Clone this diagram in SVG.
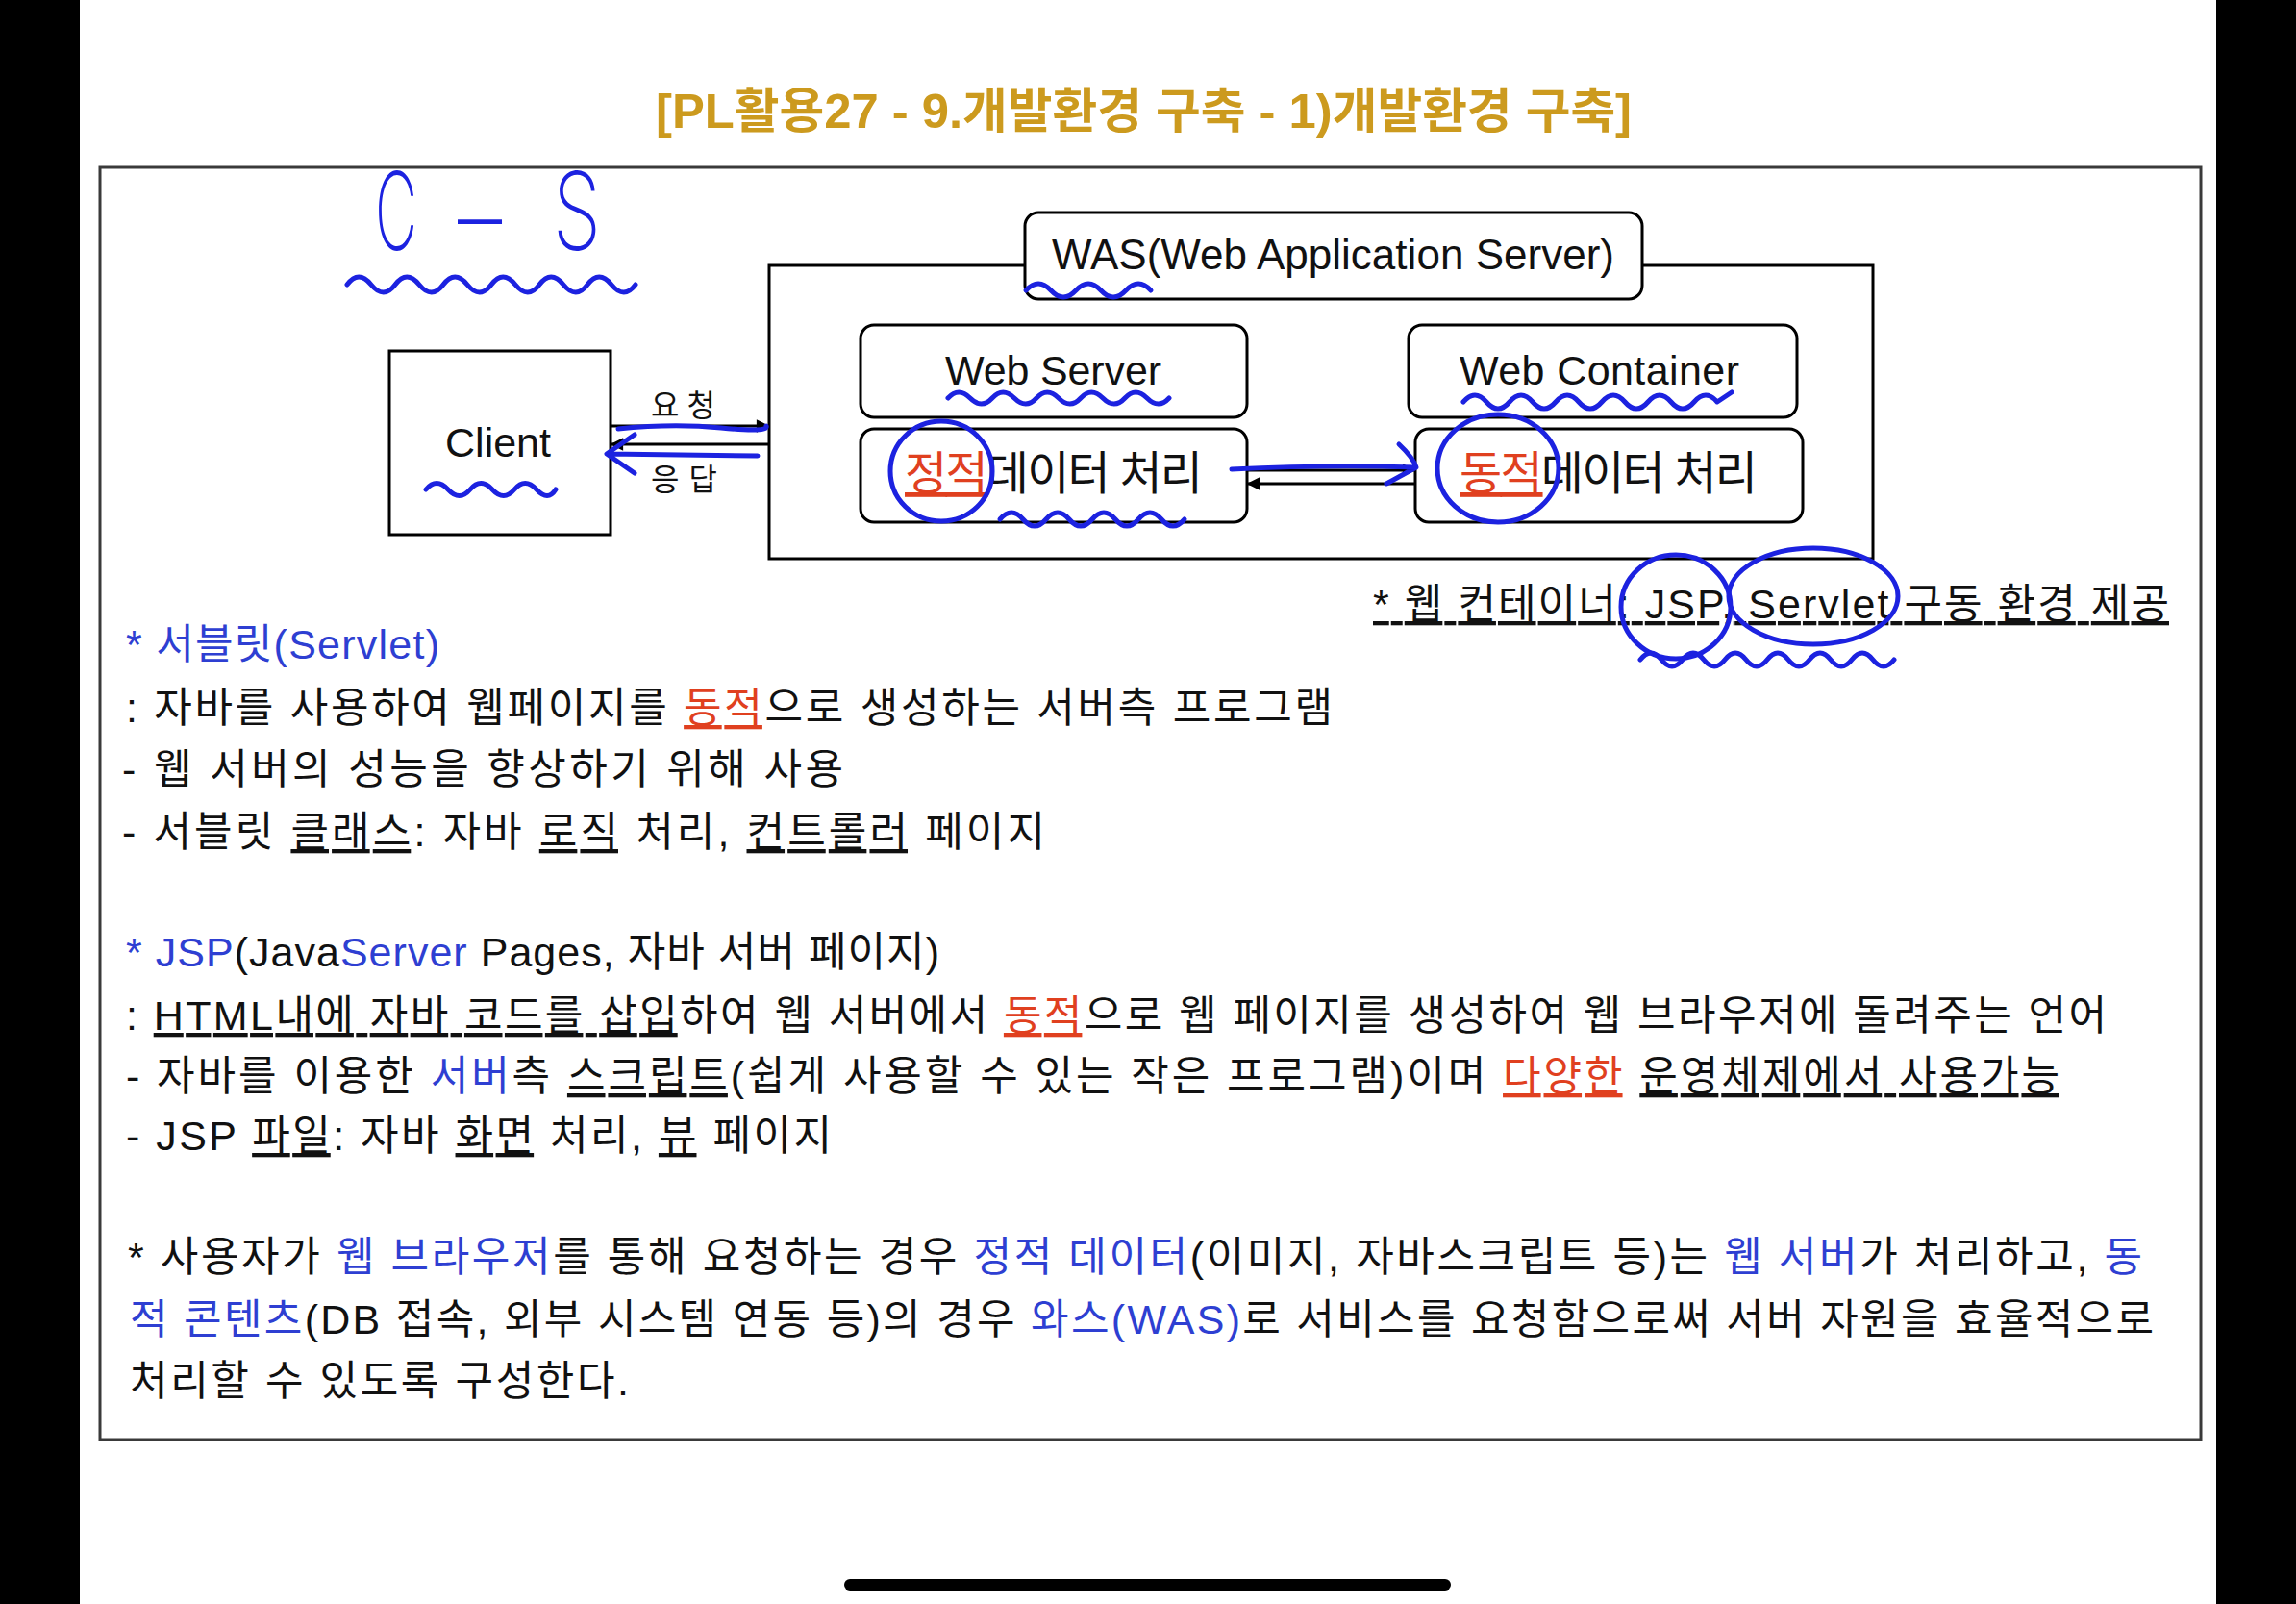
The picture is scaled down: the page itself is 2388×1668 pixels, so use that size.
<svg xmlns="http://www.w3.org/2000/svg" width="2388" height="1668" viewBox="0 0 2388 1668">
<style>
.box{fill:#fff;stroke:#000;stroke-width:3}
.rbox{fill:#fff;stroke:#000;stroke-width:3}
.con{fill:none;stroke:#000;stroke-width:3}
.hand{fill:none;stroke:#1C22E0;stroke-width:5;stroke-linecap:round;stroke-linejoin:round}
.t{font-family:"Liberation Sans","Noto Sans CJK KR",sans-serif;fill:#111}
.body{font-size:43px}
.b{fill:#2E3FD2}
.r{fill:#E0401F}
.u{text-decoration:underline}
.hw{font-family:Inter,Lato,"Liberation Sans",sans-serif;font-weight:200;fill:#1C22E0;font-size:113px}
</style>
<defs>
<marker id="ah" viewBox="0 0 10 10" refX="9" refY="5" markerWidth="5" markerHeight="4.5" orient="auto-start-reverse"><path d="M0,0 L10,5 L0,10 z" fill="#000"/></marker>
</defs>
<rect x="0" y="0" width="2388" height="1668" fill="#fff"/>
<rect x="0" y="0" width="83" height="1668" fill="#000"/>
<rect x="2305" y="0" width="83" height="1668" fill="#000"/>
<rect x="878" y="1642" width="631" height="12" rx="6" fill="#000"/>

<text class="t" x="682" y="133" font-size="50" font-weight="600" style="fill:#CC9A1E" textLength="1015" lengthAdjust="spacingAndGlyphs">[PL활용27 - 9.개발환경 구축 - 1)개발환경 구축]</text>

<rect x="104" y="174" width="2185" height="1323" fill="#fff" stroke="#3a3a3a" stroke-width="3"/>

<text class="hw" x="390" y="260" textLength="44" lengthAdjust="spacingAndGlyphs">C</text>
<text class="hw" x="476" y="266" textLength="46" lengthAdjust="spacingAndGlyphs">–</text>
<text class="hw" x="575" y="260" textLength="50" lengthAdjust="spacingAndGlyphs">S</text>

<g id="was">
<rect class="box" x="800" y="276" width="1148" height="305"/>
<rect class="rbox" x="1066" y="221" width="642" height="90" rx="14"/>
<text class="t" x="1094" y="280" font-size="44" textLength="585">WAS(Web Application Server)</text>
</g>
<g id="client">
<rect class="box" x="405" y="365" width="230" height="191"/>
<text class="t" x="463" y="475" font-size="43" textLength="110">Client</text>
</g>
<g id="web-server">
<rect class="rbox" x="895" y="338" width="402" height="96" rx="14"/>
<text class="t" x="983" y="400" font-size="43" textLength="225">Web Server</text>
</g>
<g id="static-data">
<rect class="rbox" x="895" y="446" width="402" height="97" rx="14"/>
<text class="t" x="941" y="509" font-size="48" textLength="310"><tspan class="r u">정적</tspan>데이터 처리</text>
</g>
<g id="web-container">
<rect class="rbox" x="1465" y="338" width="404" height="96" rx="14"/>
<text class="t" x="1518" y="400" font-size="43" textLength="291">Web Container</text>
</g>
<g id="dynamic-data">
<rect class="rbox" x="1472" y="446" width="403" height="97" rx="14"/>
<text class="t" x="1518" y="509" font-size="48" textLength="310"><tspan class="r u">동적</tspan>데이터 처리</text>
</g>

<g id="connectors">
<line class="con" x1="635" y1="443" x2="799" y2="443" marker-end="url(#ah)"/>
<line class="con" x1="800" y1="462" x2="636" y2="462" marker-end="url(#ah)"/>
<line class="con" x1="1297" y1="489" x2="1471" y2="489" marker-end="url(#ah)"/>
<line class="con" x1="1472" y1="503" x2="1298" y2="503" marker-end="url(#ah)"/>
<text class="t" x="677" y="433" font-size="32" textLength="67">요청</text>
<text class="t" x="677" y="510" font-size="32" textLength="69">응답</text>
</g>

<text class="t" x="1428" y="643" font-size="43" textLength="828" text-decoration="underline">* 웹 컨테이너: JSP, Servlet 구동 환경 제공</text>

<g class="t body">
<text x="131" y="685" textLength="326" class="b">* 서블릿(Servlet)</text>
<text x="131" y="751" textLength="1255">: 자바를 사용하여 웹페이지를 <tspan class="r u">동적</tspan>으로 생성하는 서버측 프로그램</text>
<text x="127" y="815" textLength="750">- 웹 서버의 성능을 향상하기 위해 사용</text>
<text x="127" y="880" textLength="960">- 서블릿 <tspan class="u">클래스</tspan>: 자바 <tspan class="u">로직</tspan> 처리, <tspan class="u">컨트롤러</tspan> 페이지</text>

<text x="131" y="1005" textLength="846"><tspan class="b">* JSP</tspan>(Java<tspan class="b">Server</tspan> Pages, 자바 서버 페이지)</text>
<text x="131" y="1071" textLength="2060">: <tspan class="u">HTML내에 자바 코드를 삽입</tspan>하여 웹 서버에서 <tspan class="r u">동적</tspan>으로 웹 페이지를 생성하여 웹 브라우저에 돌려주는 언어</text>
<text x="131" y="1134" textLength="2011">- 자바를 이용한 <tspan class="b">서버</tspan>측 <tspan class="u">스크립트</tspan>(쉽게 사용할 수 있는 작은 프로그램)이며 <tspan class="r u">다양한</tspan> <tspan class="u">운영체제에서 사용가능</tspan></text>
<text x="131" y="1196" textLength="734">- JSP <tspan class="u">파일</tspan>: 자바 <tspan class="u">화면</tspan> 처리, <tspan class="u">뷰</tspan> 페이지</text>

<text x="133" y="1322" textLength="2095">* 사용자가 <tspan class="b">웹 브라우저</tspan>를 통해 요청하는 경우 <tspan class="b">정적 데이터</tspan>(이미지, 자바스크립트 등)는 <tspan class="b">웹 서버</tspan>가 처리하고, <tspan class="b">동</tspan></text>
<text x="135" y="1387" textLength="2105"><tspan class="b">적 콘텐츠</tspan>(DB 접속, 외부 시스템 연동 등)의 경우 <tspan class="b">와스(WAS)</tspan>로 서비스를 요청함으로써 서버 자원을 효율적으로</text>
<text x="135" y="1451" textLength="519">처리할 수 있도록 구성한다.</text>
</g>

<g id="annotations">
<path class="hand" d="M361,296 Q373,280 386,296 T411,296 T436,296 T461,296 T486,296 T511,296 T536,296 T561,296 T586,296 T611,296 T636,296 T661,296"/>
<path class="hand" d="M443,509 Q454,496 466,509 T489,509 T512,509 T535,509 T558,509 T578,509"/>
<path class="hand" d="M643,446 Q700,440 750,445 T797,443"/>
<path class="hand" d="M788,474 L632,472 M660,452 L631,472 L660,492"/>
<path class="hand" d="M1067,302 Q1080,288 1093,302 T1119,302 T1145,302 T1171,302 T1197,302"/>
<path class="hand" d="M986,414 Q997,402 1009,414 T1032,414 T1055,414 T1078,414 T1101,414 T1124,414 T1147,414 T1170,414 T1193,414 T1216,414"/>
<path class="hand" d="M1522,418 Q1534,404 1546,418 T1570,418 T1594,418 T1618,418 T1642,418 T1666,418 T1690,418 T1714,418 T1738,418 T1762,418 T1786,418 L1801,408"/>
<ellipse class="hand" cx="979" cy="490" rx="53" ry="52"/>
<path class="hand" d="M1040,540 Q1052,526 1064,540 T1088,540 T1112,540 T1136,540 T1160,540 T1184,540 T1208,540 T1232,540"/>
<path class="hand" d="M1281,488 Q1380,483 1472,486 M1455,462 Q1470,476 1473,486 L1442,503"/>
<ellipse class="hand" cx="1558" cy="487" rx="63" ry="56"/>
<ellipse class="hand" cx="1743" cy="631" rx="57" ry="54"/>
<ellipse class="hand" cx="1886" cy="620" rx="88" ry="50"/>
<path class="hand" d="M1706,686 Q1717,672 1728,686 T1750,686 T1772,686 T1794,686 T1816,686 T1838,686 T1860,686 T1882,686 T1904,686 T1926,686 T1948,686 T1970,686"/>
</g>
</svg>
